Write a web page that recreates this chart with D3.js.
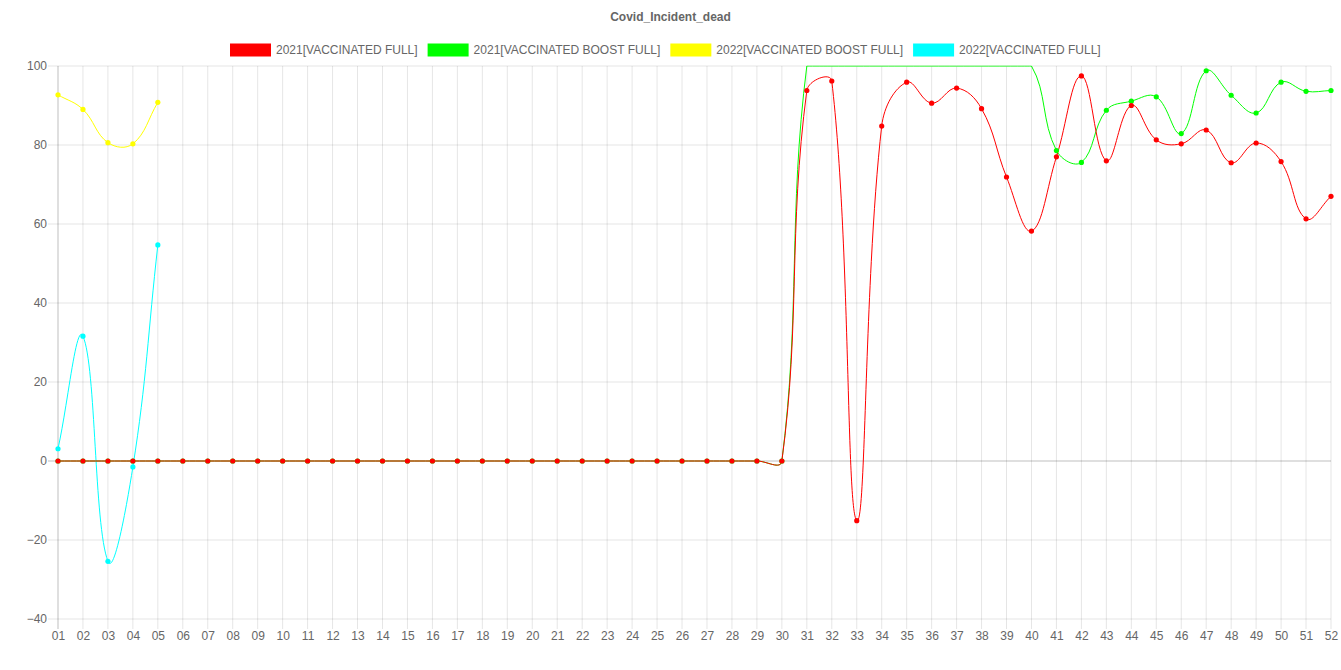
<!DOCTYPE html>
<html>
<head>
<meta charset="utf-8">
<script src="https://cdn.jsdelivr.net/npm/d3@7"></script>
<style>
  html, body { margin: 0; padding: 0; background: #fff; }
  svg { display: block; font-family: "Liberation Sans", Arial, Helvetica, sans-serif; }
</style>
</head>
<body>
<svg id="chart" width="1341" height="670"></svg>
<script>
// ---- data ----
const chartTitle = "Covid_Incident_dead";
const weeks = ["01","02","03","04","05","06","07","08","09","10","11","12","13","14","15","16","17","18","19","20","21","22","23","24","25","26","27","28","29","30","31","32","33","34","35","36","37","38","39","40","41","42","43","44","45","46","47","48","49","50","51","52"];
const yTicks = [-40, -20, 0, 20, 40, 60, 80, 100];

const seriesNames = ["2021[VACCINATED FULL]", "2021[VACCINATED BOOST FULL]", "2022[VACCINATED BOOST FULL]", "2022[VACCINATED FULL]"];
const seriesColors = ["#ff0000", "#00ff00", "#ffff00", "#00ffff"];

const full2021 = [0,0,0,0,0,0,0,0,0,0,0,0,0,0,0,0,0,0,0,0,0,0,0,0,0,0,0,0,0,0,
  93.8, 96.2, -15.1, 84.8, 95.9, 90.6, 94.4, 89.2, 71.9, 58.2,
  77.0, 97.5, 76.0, 90.0, 81.3, 80.3, 83.8, 75.5, 80.5, 75.8, 61.3, 67.0];
const boost2021 = [0,0,0,0,0,0,0,0,0,0,0,0,0,0,0,0,0,0,0,0,0,0,0,0,0,0,0,0,0,0,
  100, 100, 100, 100, 100, 100, 100, 100, 100, 100,
  78.6, 75.6, 88.8, 91.1, 92.2, 82.9, 98.8, 92.6, 88.1, 95.9, 93.6, 93.8];
const boost2022 = [92.7, 89.0, 80.6, 80.3, 90.8];
const full2022 = [3.1, 31.6, -25.4, -1.5, 54.7];

const seriesData = [full2021, boost2021, boost2022, full2022];

// ---- layout ----
const svg = d3.select("#chart");
const W = 1341, H = 670;
const area = { left: 58, right: 1331, top: 66, bottom: 619 };
const textColor = "#666";
const fontSize = 12;

const x = d3.scalePoint().domain(weeks).range([area.left, area.right]);
const y = d3.scaleLinear().domain([-40, 100]).range([area.bottom, area.top]);

// title
svg.append("text")
  .attr("x", W / 2).attr("y", 17)
  .attr("text-anchor", "middle").attr("dominant-baseline", "central")
  .attr("font-size", fontSize).attr("font-weight", "bold")
  .attr("fill", textColor).text(chartTitle);

// legend
const legend = svg.append("g");
const boxW = 40, pad = 10;
const items = seriesNames.map((name, i) => {
  const t = legend.append("text")
    .attr("font-size", fontSize).attr("fill", textColor)
    .attr("dominant-baseline", "central").attr("y", 50).text(name);
  const tw = t.node().getComputedTextLength();
  return { t, tw, i };
});
const totalW = d3.sum(items, d => boxW + fontSize / 2 + d.tw + pad);
let lx = Math.round((W - totalW) / 2);
items.forEach(d => {
  legend.append("rect")
    .attr("x", lx).attr("y", 43.5).attr("width", boxW + 1).attr("height", 13)
    .attr("fill", seriesColors[d.i]);
  d.t.attr("x", lx + boxW + fontSize / 2);
  lx += boxW + fontSize / 2 + d.tw + pad;
});

// grid (drawn on whole-pixel coordinates, anti-aliased like a canvas)
const grid = svg.append("g");
yTicks.forEach(v => {
  grid.append("line")
    .attr("x1", area.left - 10).attr("x2", area.right)
    .attr("y1", y(v)).attr("y2", y(v))
    .attr("stroke", v === 0 ? "rgba(0,0,0,0.25)" : "rgba(0,0,0,0.1)");
});
weeks.forEach((w, i) => {
  grid.append("line")
    .attr("x1", x(w)).attr("x2", x(w))
    .attr("y1", area.top).attr("y2", area.bottom + 10)
    .attr("stroke", i === 0 ? "rgba(0,0,0,0.25)" : "rgba(0,0,0,0.1)");
});

// axes labels via d3 axes
const yAxis = svg.append("g")
  .attr("transform", `translate(${area.left - 10},0)`)
  .call(d3.axisLeft(y).tickValues(yTicks).tickSize(0).tickPadding(0));
yAxis.select(".domain").remove();
yAxis.selectAll("text").attr("font-size", fontSize).attr("fill", textColor)
  .attr("font-family", "Liberation Sans, Arial, sans-serif").attr("dx", "-1");

const xAxis = svg.append("g")
  .attr("transform", `translate(0,${area.bottom + 10})`)
  .call(d3.axisBottom(x).tickSize(0).tickPadding(0));
xAxis.select(".domain").remove();
xAxis.selectAll("text").attr("font-size", fontSize).attr("fill", textColor)
  .attr("font-family", "Liberation Sans, Arial, sans-serif").attr("dy", "0.95em");

// clip
svg.append("defs").append("clipPath").attr("id", "plotclip")
  .append("rect").attr("x", area.left).attr("y", area.top - 0.5)
  .attr("width", area.right - area.left).attr("height", area.bottom - area.top + 1);

// Chart.js-like spline with tension 0.4 and capped control points
function splinePath(pts, tension) {
  const n = pts.length;
  const cps = pts.map((p, i) => {
    const prev = i > 0 ? pts[i - 1] : p;
    const next = i < n - 1 ? pts[i + 1] : p;
    const d01 = Math.hypot(p.x - prev.x, p.y - prev.y);
    const d12 = Math.hypot(next.x - p.x, next.y - p.y);
    let s01 = d01 / (d01 + d12), s12 = d12 / (d01 + d12);
    if (isNaN(s01)) s01 = 0;
    if (isNaN(s12)) s12 = 0;
    const fa = tension * s01, fb = tension * s12;
    const c = {
      px: p.x - fa * (next.x - prev.x), py: p.y - fa * (next.y - prev.y),
      nx: p.x + fb * (next.x - prev.x), ny: p.y + fb * (next.y - prev.y)
    };
    const inArea = p.x >= area.left - 1e-6 && p.x <= area.right + 1e-6 && p.y >= area.top - 1e-6 && p.y <= area.bottom + 1e-6;
    if (inArea) {
      const cx = v => Math.max(area.left, Math.min(area.right, v));
      const cy = v => Math.max(area.top, Math.min(area.bottom, v));
      c.px = cx(c.px); c.nx = cx(c.nx); c.py = cy(c.py); c.ny = cy(c.ny);
    }
    return c;
  });
  let d = `M${pts[0].x},${pts[0].y}`;
  for (let i = 1; i < n; i++) {
    d += `C${cps[i - 1].nx},${cps[i - 1].ny},${cps[i].px},${cps[i].py},${pts[i].x},${pts[i].y}`;
  }
  return d;
}

const plot = svg.append("g").attr("clip-path", "url(#plotclip)");
// draw in reverse order so first dataset is on top
for (let s = seriesData.length - 1; s >= 0; s--) {
  const vals = seriesData[s];
  const pts = vals.map((v, i) => ({ x: x(weeks[i]), y: y(v), v }));
  plot.append("path")
    .attr("d", splinePath(pts, 0.4))
    .attr("fill", "none").attr("stroke", seriesColors[s]).attr("stroke-width", 1);
  svg.append("g").selectAll("circle")
    .data(pts.filter(p => p.v < y.domain()[1]))
    .join("circle")
    .attr("cx", p => p.x).attr("cy", p => p.y).attr("r", 2.6)
    .attr("fill", seriesColors[s]);
}
</script>
</body>
</html>
